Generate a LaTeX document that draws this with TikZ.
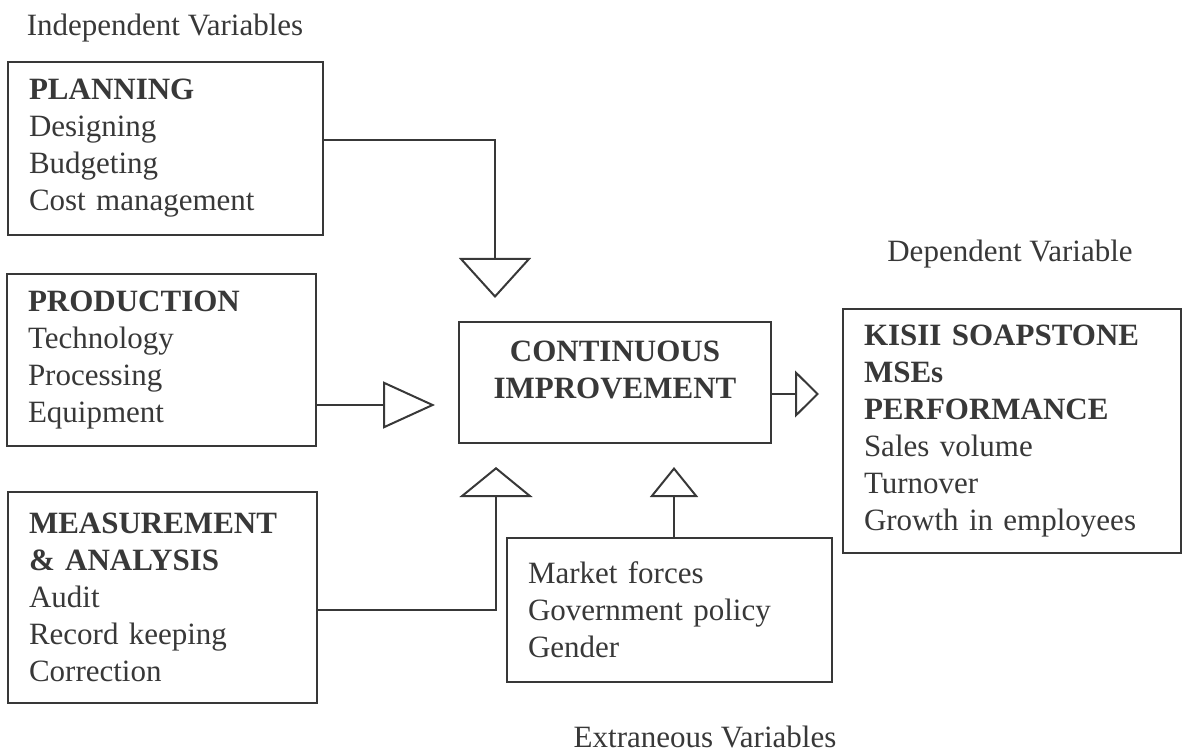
\documentclass[tikz,border=0pt]{standalone}
\usepackage{fontspec}
\setmainfont{Liberation Serif}
\usetikzlibrary{arrows.meta}
\definecolor{ink}{gray}{0.22}

\begin{document}
\begin{tikzpicture}[x=1pt, y=-1pt, color=ink,
  font=\fontsize{31}{37}\selectfont,
  varbox/.style={draw, line width=2pt, anchor=north west, align=left,
    inner xsep=21pt, inner ysep=0pt, outer sep=0pt},
  hollow/.style 2 args={line width=2pt, shorten >=24pt,
    -{Triangle[open, length=#1, width=#2]}}]
\useasboundingbox (0,0) rectangle (1187,754);

% variable headings
\node (indep) at (165,28) {Independent Variables};
\node (dep) at (1010,254) {Dependent Variable};
\node (extr) at (705,737) {Extraneous Variables};

% independent variables
\node[varbox, text width=273pt, minimum height=173pt] (plan) at (8,62)
  {\textbf{PLANNING}\\Designing\\Budgeting\\Cost management};
\node[varbox, text width=267pt, minimum height=172pt] (prod) at (7,274)
  {\textbf{PRODUCTION}\\Technology\\Processing\\Equipment};
\node[varbox, text width=267pt, minimum height=211pt] (meas) at (8,492)
  {\textbf{MEASUREMENT}\\\textbf{\& ANALYSIS}\\Audit\\Record keeping\\Correction};

% middle and dependent
\node[varbox, minimum width=312pt, minimum height=121pt] (ci) at (459,322) {};
\node[font=\fontsize{31}{37}\selectfont\bfseries, align=center, anchor=north,
  inner sep=0pt] (citext) at ([yshift=-19pt]ci.north) {CONTINUOUS\\IMPROVEMENT};
\node[varbox, text width=296pt, minimum height=244pt] (kisii) at (843,309)
  {\textbf{KISII SOAPSTONE}\\\textbf{MSEs}\\\textbf{PERFORMANCE}\\Sales volume\\Turnover\\Growth in employees};
\node[varbox, text width=283pt, minimum height=144pt] (ext) at (507,538)
  {Market forces\\Government policy\\Gender};

% connectors
\draw[hollow={40pt}{72pt}] ([yshift=8.5pt]plan.east) -| ([xshift=-120pt]ci.north);
\draw[hollow={52pt}{47pt}] ([yshift=-45pt]prod.east) -- ([yshift=-45pt]prod.east -| ci.west);
\draw[hollow={30pt}{73pt}] ([yshift=-12.5pt]meas.east) -| ([xshift=-119pt]ci.south);
\draw[hollow={30pt}{48pt}] ([xshift=4.5pt]ext.north) -- ([xshift=4.5pt]ext.north |- ci.south);
\draw[hollow={24pt}{47pt}] ([yshift=-11.5pt]ci.east) -- ([yshift=-11.5pt]ci.east -| kisii.west);
\end{tikzpicture}
\end{document}
